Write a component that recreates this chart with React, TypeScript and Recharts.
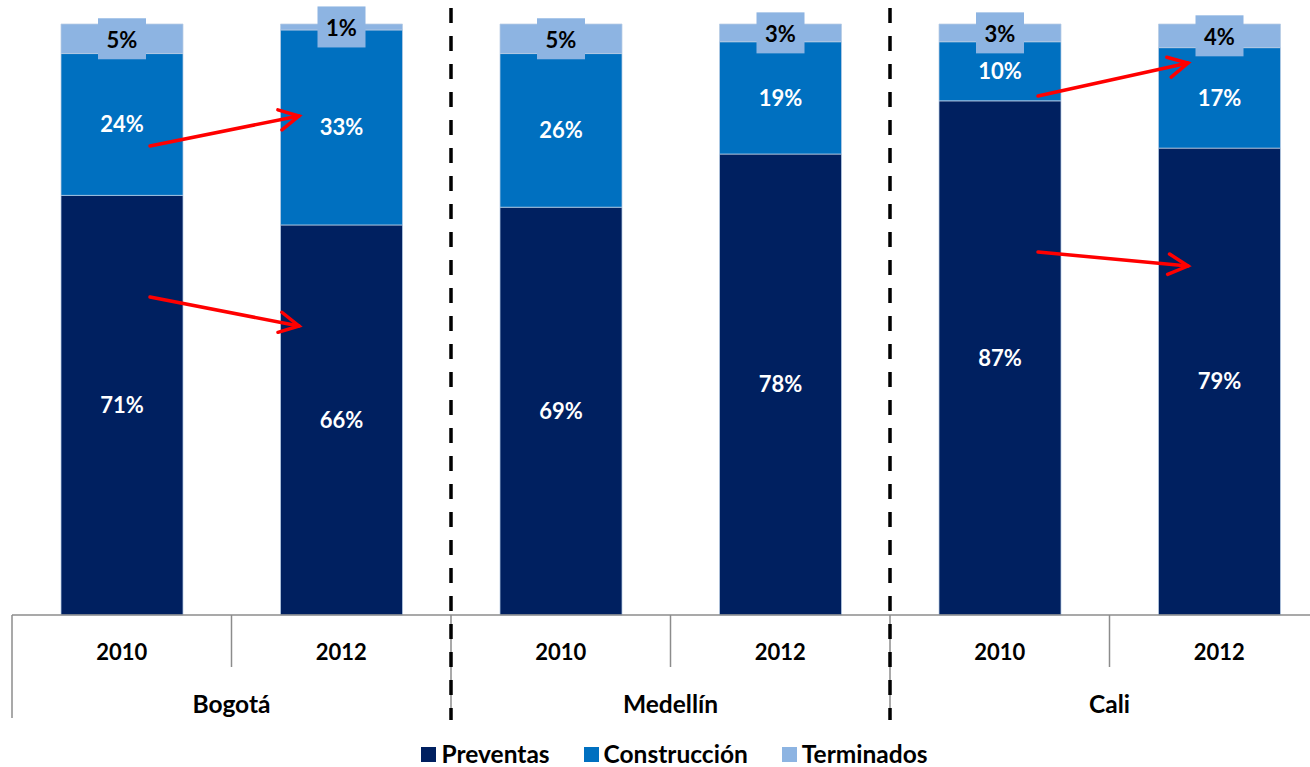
import React from 'react';
import { BarChart, Bar, XAxis, YAxis, Legend, LabelList } from 'recharts';

const cities = ['Bogotá', 'Bogotá', 'Medellín', 'Medellín', 'Cali', 'Cali'];
const years = ['2010', '2012', '2010', '2012', '2010', '2012'];
const preventas = [71, 66, 69, 78, 87, 79];
const construccion = [24, 33, 26, 19, 10, 17];
const terminados = [5, 1, 5, 3, 3, 4];

const COLORS = {
  preventas: '#002060',
  construccion: '#0070C0',
  terminados: '#8DB4E2'
};

const SERIES = [
  { key: 'preventas', name: 'Preventas' },
  { key: 'construccion', name: 'Construcción' },
  { key: 'terminados', name: 'Terminados' }
];

const FONT = 'Lato, "Open Sans", sans-serif';

// chart geometry
const W = 1340;
const H = 767;
const M = { top: 24, right: 11, left: 12, bottom: 0 };
const BAND = (W - M.left - M.right) / years.length;
const AXIS_Y = 615;

const data = years.map((year, i) => ({
  key: cities[i] + ' ' + year,
  year,
  city: cities[i],
  preventas: preventas[i],
  construccion: construccion[i],
  terminados: terminados[i]
}));

const CategoryTick = (props: any) => {
  const { x, index } = props;
  const left = x - BAND / 2;
  const right = x + BAND / 2;
  const isCityStart = index % 2 === 0;
  return (
    <g>
      <line x1={left} x2={left} y1={AXIS_Y} y2={isCityStart ? 718 : 667} stroke="#8c8c8c" strokeWidth={1.5} />
      {index === years.length - 1 && (
        <line x1={right} x2={right} y1={AXIS_Y} y2={718} stroke="#8c8c8c" strokeWidth={1.5} />
      )}
      {isCityStart && index > 0 && (
        <line x1={left} x2={left} y1={8} y2={720} stroke="#000" strokeWidth={3.5} strokeDasharray="15 13" />
      )}
      <text x={x} y={651} textAnchor="middle" dominantBaseline="central"
        fontFamily={FONT} fontWeight={700} fontSize={22} fill="#000">
        {years[index]}
      </text>
      {!isCityStart && (
        <text x={left} y={703} textAnchor="middle" dominantBaseline="central"
          fontFamily={FONT} fontWeight={700} fontSize={24.5} fill="#000">
          {cities[index]}
        </text>
      )}
    </g>
  );
};

const BoxLabel = (props: any) => {
  const { x, y, width, height, value } = props;
  const cx = x + width / 2;
  const cy = y + height / 2;
  const bw = 48;
  return (
    <g>
      <rect x={cx - bw / 2} y={cy - 20.5} width={bw} height={41} fill={COLORS.terminados} />
      <text x={cx} y={cy + 1} textAnchor="middle" dominantBaseline="central"
        fontFamily={FONT} fontWeight={700} fontSize={22} fill="#000">
        {value + '%'}
      </text>
    </g>
  );
};

const LegendContent = () => (
  <div style={{ display: 'flex', justifyContent: 'center', alignItems: 'center', height: 42, boxSizing: 'border-box', paddingTop: 16, paddingLeft: 8, gap: 34 }}>
    {SERIES.map(s => (
      <div key={s.key} style={{ display: 'flex', alignItems: 'center' }}>
        <span style={{ width: 15, height: 15, background: (COLORS as any)[s.key], marginRight: 5 }}></span>
        <span style={{ fontFamily: FONT, fontWeight: 700, fontSize: 24.5, color: '#000', lineHeight: '26px' }}>{s.name}</span>
      </div>
    ))}
  </div>
);

// annotation arrows (pixel positions on the picture)
const ARROWS = [
  [150, 146, 299, 116],
  [150, 297, 299, 326],
  [1038, 96, 1188, 63],
  [1038, 252, 1188, 266]
];

const Arrow = ({ a }: { a: number[] }) => {
  const [x1, y1, x2, y2] = a;
  const ang = Math.atan2(y2 - y1, x2 - x1);
  const len = 22;
  const spread = Math.PI / 6.5;
  const p1 = [x2 - len * Math.cos(ang - spread), y2 - len * Math.sin(ang - spread)];
  const p2 = [x2 - len * Math.cos(ang + spread), y2 - len * Math.sin(ang + spread)];
  return (
    <g stroke="#FF0000" strokeWidth={3.5} strokeLinecap="round" fill="none">
      <line x1={x1} y1={y1} x2={x2} y2={y2} />
      <polyline points={`${p1[0]},${p1[1]} ${x2},${y2} ${p2[0]},${p2[1]}`} />
    </g>
  );
};

export default function App() {
  return (
    <div style={{ position: 'absolute', left: 0, top: 0, width: 1310, height: 767, overflow: 'hidden', background: '#fff' }}>
      <BarChart width={W} height={H} data={data} margin={M} barSize={122}>
        <XAxis dataKey="key" interval={0} height={110} tickLine={false}
          axisLine={{ stroke: '#8c8c8c', strokeWidth: 1.5 }} tick={<CategoryTick />} />
        <YAxis hide domain={[0, 100]} />
        <Legend verticalAlign="bottom" height={42} content={<LegendContent />} />
        {SERIES.map(s => (
          <Bar key={s.key} dataKey={s.key} name={s.name} stackId="a"
            fill={(COLORS as any)[s.key]} stroke="#B8CCE4" strokeWidth={0.75}
            isAnimationActive={false}>
            {s.key === 'terminados' ? (
              <LabelList dataKey={s.key} content={<BoxLabel />} />
            ) : (
              <LabelList dataKey={s.key} position="center" fill="#fff"
                fontFamily={FONT} fontWeight={700} fontSize={22}
                formatter={(v: any) => v + '%'} />
            )}
          </Bar>
        ))}
      </BarChart>
      <svg width={1310} height={767} style={{ position: 'absolute', left: 0, top: 0, pointerEvents: 'none' }}>
        {ARROWS.map((a, i) => <Arrow key={i} a={a} />)}
      </svg>
    </div>
  );
}
